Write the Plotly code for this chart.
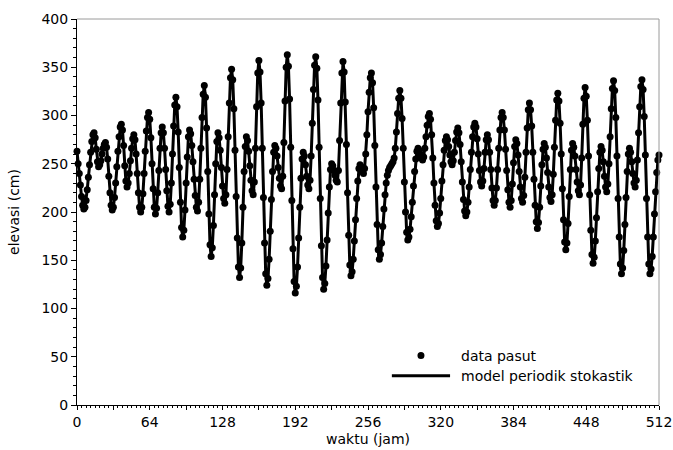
import plotly.graph_objects as go

# hourly sample index (jam)
hours = list(range(0, 513))

data_cm = [
    263, 250, 240, 228, 216, 207, 203, 205, 212, 223,
    236, 249, 262, 273, 280, 282, 277, 265, 252, 247,
    249, 253, 260, 266, 270, 272, 267, 255, 237, 220,
    207, 202, 205, 215, 230, 247, 263, 278, 288, 291,
    285, 269, 248, 232, 226, 230, 240, 253, 266, 276,
    280, 275, 260, 240, 220, 205, 200, 205, 219, 240,
    263, 284, 298, 303, 296, 277, 250, 224, 205, 198,
    204, 220, 243, 266, 282, 288, 282, 266, 244, 222,
    206, 200, 208, 230, 260, 289, 311, 319, 309, 283,
    246, 210, 184, 174, 181, 202, 230, 257, 278, 285,
    281, 269, 252, 234, 217, 205, 201, 210, 234, 266,
    298, 322, 331, 319, 287, 242, 198, 166, 154, 163,
    186, 218, 250, 273, 282, 277, 264, 246, 227, 214,
    209, 218, 244, 278, 313, 339, 348, 337, 307, 264,
    216, 173, 143, 132, 142, 168, 205, 242, 268, 278,
    274, 263, 248, 233, 222, 218, 231, 266, 309, 344,
    357, 345, 313, 266, 215, 168, 136, 124, 131, 151,
    180, 213, 242, 262, 269, 266, 258, 246, 235, 227,
    224, 237, 272, 315, 350, 363, 351, 317, 267, 212,
    162, 128, 116, 123, 143, 173, 205, 235, 255, 262,
    258, 249, 237, 228, 224, 233, 258, 292, 327, 352,
    361, 349, 316, 267, 214, 165, 132, 120, 126, 144,
    171, 199, 226, 244, 250, 248, 243, 238, 233, 231,
    243, 274, 313, 344, 356, 345, 314, 270, 220, 176,
    145, 134, 138, 151, 170, 192, 214, 232, 245, 249,
    247, 242, 240, 245, 260, 280, 304, 324, 339, 344,
    334, 308, 269, 226, 187, 161, 151, 156, 168, 185,
    203, 218, 230, 238, 243, 246, 248, 250, 252, 256,
    266, 283, 302, 318, 326, 318, 297, 266, 231, 200,
    179, 171, 174, 182, 195, 210, 227, 242, 255, 263,
    266, 264, 260, 256, 254, 257, 266, 278, 290, 299,
    302, 296, 280, 256, 230, 207, 191, 185, 188, 199,
    214, 232, 249, 264, 274, 278, 275, 268, 259, 252,
    249, 253, 262, 274, 283, 287, 282, 270, 252, 231,
    213, 201, 196, 200, 210, 226, 244, 262, 278, 288,
    292, 288, 276, 260, 243, 231, 227, 232, 245, 262,
    275, 280, 275, 262, 244, 225, 212, 207, 212, 225,
    244, 266, 285, 298, 303, 298, 285, 265, 243, 223,
    210, 205, 212, 229, 251, 268, 275, 271, 259, 242,
    226, 214, 210, 217, 236, 262, 287, 306, 313, 306,
    289, 262, 234, 207, 190, 183, 189, 205, 227, 249,
    265, 271, 267, 256, 241, 226, 215, 211, 218, 239,
    267, 295, 316, 323, 315, 292, 260, 224, 192, 169,
    161, 168, 188, 216, 244, 264, 271, 267, 258, 244,
    231, 222, 218, 228, 256, 291, 318, 329, 320, 295,
    258, 218, 181, 156, 147, 153, 170, 194, 221, 245,
    262, 268, 264, 252, 237, 226, 221, 229, 250, 278,
    307, 328, 336, 326, 298, 258, 214, 174, 146, 136,
    142, 160, 187, 215, 242, 260, 266, 262, 252, 240,
    230, 226, 233, 254, 282, 309, 330, 337, 327, 299,
    259, 214, 174, 146, 136, 141, 154, 174, 198, 221,
    241, 254, 259,
]

# periodic-stochastic model (follows the observations closely)
model_cm = list(data_cm)

x_tick_vals = [0, 32, 64, 96, 128, 160, 192, 224, 256, 288, 320, 352, 384, 416, 448, 480, 512]
x_tick_text = ["0", "", "64", "", "128", "", "192", "", "256", "", "320", "", "384", "", "448", "", "512"]
y_tick_vals = [0, 50, 100, 150, 200, 250, 300, 350, 400]

legend_labels = ["data pasut", "model periodik stokastik"]

FONT = "DejaVu Sans"
BLACK = "black"

fig = go.Figure()
fig.add_trace(go.Scatter(
    x=hours, y=model_cm, mode="lines",
    line=dict(color=BLACK, width=3),
    name=legend_labels[1], showlegend=False, cliponaxis=False,
))
fig.add_trace(go.Scatter(
    x=hours, y=data_cm, mode="markers",
    marker=dict(color=BLACK, size=7),
    name=legend_labels[0], showlegend=False, cliponaxis=False,
))

# hand-built legend (bottom right, inside the plot)
fig.add_shape(type="circle", xref="paper", yref="paper",
              xsizemode="pixel", ysizemode="pixel",
              xanchor=0.591, yanchor=0.128,
              x0=-3.5, x1=3.5, y0=-3.5, y1=3.5,
              fillcolor=BLACK, line=dict(color=BLACK, width=0))
fig.add_shape(type="line", xref="paper", yref="paper",
              x0=0.541, x1=0.641, y0=0.076, y1=0.076,
              line=dict(color=BLACK, width=3))
fig.add_annotation(x=0.656, y=0.128, xref="paper", yref="paper",
                   text=legend_labels[0], showarrow=False,
                   xanchor="left", yanchor="middle",
                   font=dict(family=FONT, size=14, color=BLACK))
fig.add_annotation(x=0.656, y=0.076, xref="paper", yref="paper",
                   text=legend_labels[1], showarrow=False,
                   xanchor="left", yanchor="middle",
                   font=dict(family=FONT, size=14, color=BLACK))

# grey top / right frame
fig.add_shape(type="line", xref="paper", yref="paper", x0=1, x1=1, y0=0, y1=1,
              line=dict(color="#9a9a9a", width=1))
fig.add_shape(type="line", xref="paper", yref="paper", x0=0, x1=1, y0=1, y1=1,
              line=dict(color="#9a9a9a", width=1))

fig.update_layout(
    width=673, height=450,
    margin=dict(l=77, r=14, t=19, b=45),
    paper_bgcolor="white", plot_bgcolor="white",
    font=dict(family=FONT, size=14, color=BLACK),
    showlegend=False,
)
fig.update_xaxes(
    range=[0, 512], tickvals=x_tick_vals, ticktext=x_tick_text,
    automargin=False,
    showline=True, linecolor=BLACK, linewidth=1,
    ticks="outside", ticklen=4, tickcolor=BLACK, tickwidth=1,
    minor=dict(ticks="outside", ticklen=2, dtick=4, tick0=0, tickcolor=BLACK),
    showgrid=False, zeroline=False,
    title=dict(text="waktu (jam)", standoff=5, font=dict(family=FONT, size=14, color=BLACK)),
    tickfont=dict(family=FONT, size=14, color=BLACK),
)
fig.update_yaxes(
    range=[0, 400], tickvals=y_tick_vals,
    automargin=False,
    showline=True, linecolor=BLACK, linewidth=1,
    ticks="outside", ticklen=5, tickcolor=BLACK, tickwidth=1,
    minor=dict(ticks="outside", ticklen=3, dtick=10, tick0=0, tickcolor=BLACK),
    showgrid=False, zeroline=False,
    title=dict(text="elevasi (cm)", standoff=18, font=dict(family=FONT, size=14, color=BLACK)),
    tickfont=dict(family=FONT, size=14, color=BLACK),
)

# remove the browser's default body margin so the 673x450 figure fills the window
fig.write_html(
    "out.html",
    config=dict(displayModeBar=False),
    post_script="document.body.style.margin='0';document.body.style.overflow='hidden';",
)
